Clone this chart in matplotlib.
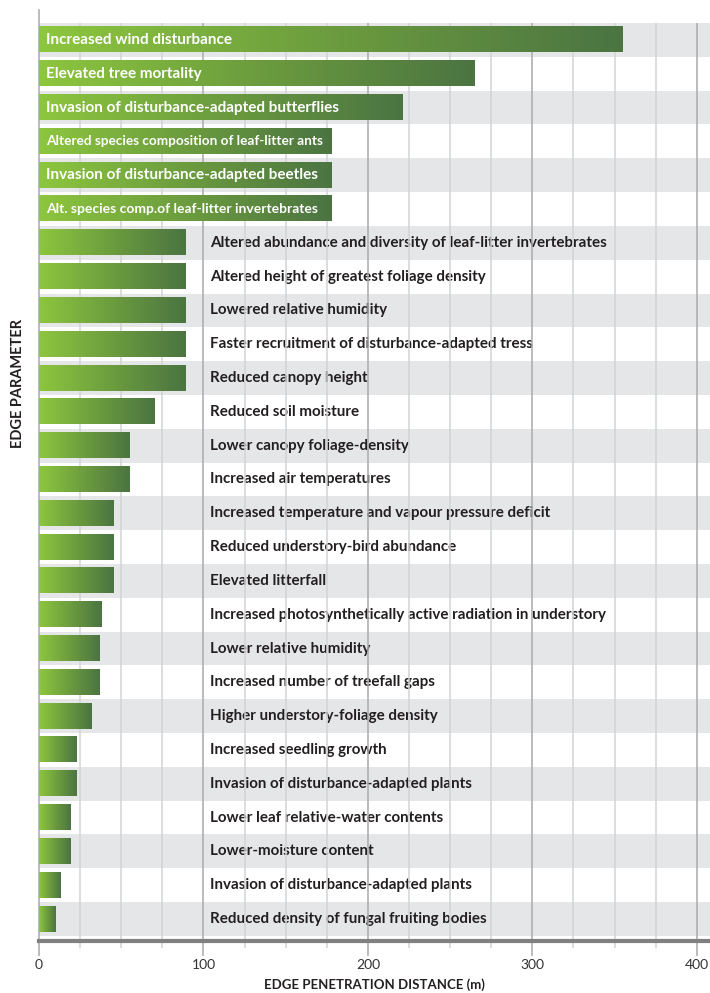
import numpy as np
import matplotlib
matplotlib.use("Agg")
import matplotlib.pyplot as plt
from matplotlib.colors import LinearSegmentedColormap

plt.rcParams['font.family'] = ['Lato', 'DejaVu Sans']

labels = [
    "Increased wind disturbance",
    "Elevated tree mortality",
    "Invasion of disturbance-adapted butterflies",
    "Altered species composition of leaf-litter ants",
    "Invasion of disturbance-adapted beetles",
    "Alt. species comp.of leaf-litter invertebrates",
    "Altered abundance and diversity of leaf-litter invertebrates",
    "Altered height of greatest foliage density",
    "Lowered relative humidity",
    "Faster recruitment of disturbance-adapted tress",
    "Reduced canopy height",
    "Reduced soil moisture",
    "Lower canopy foliage-density",
    "Increased air temperatures",
    "Increased temperature and vapour pressure deficit",
    "Reduced understory-bird abundance",
    "Elevated litterfall",
    "Increased photosynthetically active radiation in understory",
    "Lower relative humidity",
    "Increased number of treefall gaps",
    "Higher understory-foliage density",
    "Increased seedling growth",
    "Invasion of disturbance-adapted plants",
    "Lower leaf relative-water contents",
    "Lower-moisture content",
    "Invasion of disturbance-adapted plants",
    "Reduced density of fungal fruiting bodies",
]
distances = [355, 265, 221, 178, 178, 178, 89, 89, 89, 89, 89, 70, 55, 55,
             45, 45, 45, 38, 37, 37, 32, 23, 23, 19, 19, 13, 10]
label_inside = [True] * 6 + [False] * 21
# the two long in-bar labels are set a bit tighter in the original
label_size = [11, 11, 11, 9.8, 11, 10] + [10.9] * 21

fig = plt.figure(figsize=(7.1, 9.93), dpi=100)
ax = fig.add_axes([39 / 710, 1 - 941 / 993, 1 - 39 / 710, (941 - 10) / 993])

n = len(labels)
cmap = LinearSegmentedColormap.from_list("grn", ["#8dc63f", "#6c9c3e", "#4b7442"])
grad = np.linspace(0, 1, 256).reshape(1, -1)

for i in range(n):
    if i % 2 == 0:
        ax.axhspan(i - 0.5, i + 0.5, color="#e5e6e8", lw=0, zorder=0)

for i, (lab, d, inside, fs) in enumerate(zip(labels, distances, label_inside, label_size)):
    ax.imshow(grad, cmap=cmap, aspect="auto", extent=[0, d, i + 0.37, i - 0.37],
              interpolation="bicubic", zorder=3)
    if inside:
        ax.text(4, i, lab, color="white", fontweight="bold", fontsize=fs,
                va="center", ha="left", zorder=4)
    else:
        ax.text(104, i, lab, color="#231f20", fontweight="bold", fontsize=fs,
                va="center", ha="left", zorder=1)

xmax = 408
ymin, ymax = -0.885, 26.65
minor = [x for x in range(25, 408, 25) if x % 100]
major = list(range(0, 401, 100))
ax.vlines(minor, -0.5, ymax, color="#d2d3d5", lw=1.1, zorder=2)
ax.vlines(major[1:], -0.5, ymax, color="#a9aaac", lw=1.1, zorder=2)

ax.set_xlim(0, xmax)
ax.set_ylim(ymax, ymin)
ax.set_xticks(major)
ax.set_xticks(minor, minor=True)
ax.tick_params(axis="x", which="major", length=11, width=1.1, color="#a9aaac",
               labelsize=10, labelcolor="#333333", pad=2)
ax.tick_params(axis="x", which="minor", length=5, width=1.1, color="#d2d3d5")
ax.set_yticks([])

for s in ["top", "right"]:
    ax.spines[s].set_visible(False)
ax.spines["bottom"].set_color("#808080")
ax.spines["bottom"].set_linewidth(3)
ax.spines["left"].set_color("#a9aaac")
ax.spines["left"].set_linewidth(1.1)

ax.set_xlabel("EDGE PENETRATION DISTANCE (m)", fontweight="bold", fontsize=9.5,
              color="#231f20", labelpad=5)
fig.text(18 / 710, 1 - 383 / 993, "EDGE PARAMETER", rotation=90, fontweight="bold",
         fontsize=10.5, color="#231f20", ha="center", va="center")

fig.savefig("out.png", dpi=100)
